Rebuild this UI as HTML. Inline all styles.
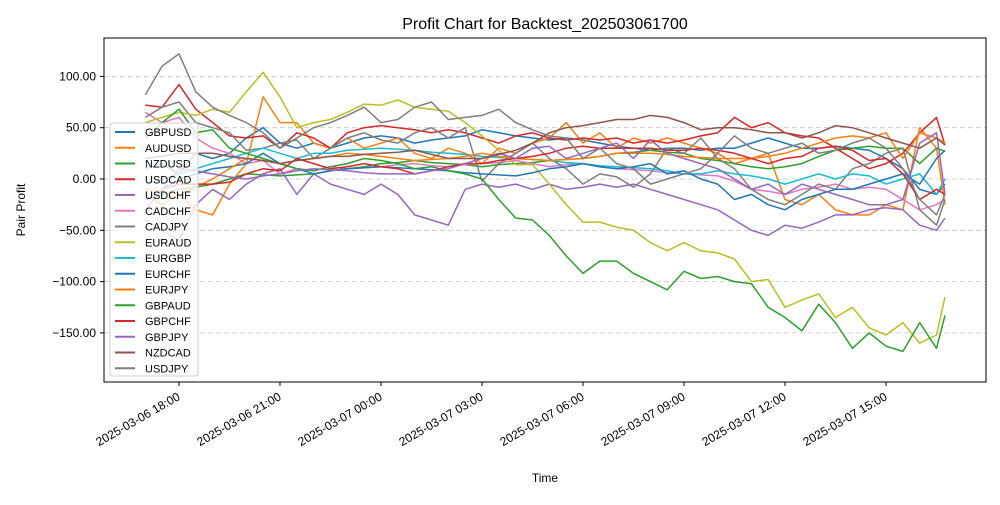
<!DOCTYPE html>
<html><head><meta charset="utf-8"><style>
body{margin:0;background:#fff;}
svg{font-family:"Liberation Sans","DejaVu Sans",sans-serif;}
</style></head><body>
<svg id="chart" width="1000" height="500" xmlns="http://www.w3.org/2000/svg">
<rect width="1000" height="500" fill="#fff"/>
<text x="545" y="29" text-anchor="middle" font-size="16">Profit Chart for Backtest_202503061700</text>
<g id="grid"></g><g id="series"></g>
<rect x="104" y="38" width="882" height="344" fill="none" stroke="#000" stroke-width="1"/>
<g id="axes" font-size="12"></g>
<text x="545" y="482" text-anchor="middle" font-size="12">Time</text>
<text transform="translate(25,210) rotate(-90)" text-anchor="middle" font-size="12">Pair Profit</text>
<g id="legend"></g>
</svg>
<script>
const names=["GBPUSD","AUDUSD","NZDUSD","USDCAD","USDCHF","CADCHF","CADJPY","EURAUD","EURGBP","EURCHF","EURJPY","GBPAUD","GBPCHF","GBPJPY","NZDCAD","USDJPY"];
const colors=["#1f77b4","#ff7f0e","#2ca02c","#d62728","#9467bd","#e377c2","#7f7f7f","#bcbd22","#17becf","#1f77b4","#ff7f0e","#2ca02c","#d62728","#9467bd","#8c564b","#7f7f7f"];
const GBPUSD=[10,15,5,25,20,25,40,50,35,30,35,30,35,40,42,40,35,38,40,42,48,45,42,40,38,40,38,35,32,30,28,30,30,28,30,30,35,40,35,30,30,32,30,28,20,10,-10,-15,-5];
const AUDUSD=[-15,-25,-15,-30,-35,-5,15,80,55,55,35,30,40,30,35,40,25,20,30,25,15,30,25,35,40,55,35,45,30,40,35,40,35,30,25,15,20,25,-20,-25,-15,-30,-35,-35,-25,-30,50,30,-25];
const NZDUSD=[-20,-15,-10,-8,-5,0,5,4,3,4,5,8,10,12,15,16,18,16,15,14,12,14,15,16,18,19,20,22,25,26,28,26,25,20,18,15,12,10,12,15,22,28,30,32,30,30,15,30,27];
const USDCAD=[72,70,92,68,55,42,40,42,30,45,40,30,45,50,52,50,48,45,48,45,40,35,42,45,40,38,40,38,40,35,38,35,38,42,45,60,50,55,45,42,40,30,20,10,15,25,45,60,33];
const USDCHF=[-40,-50,-60,-25,-10,-20,-5,5,10,-15,5,-5,-10,-15,-5,-15,-35,-40,-45,-10,-5,-8,-5,-10,-5,-10,-8,-5,-8,-5,-10,-15,-20,-25,-30,-40,-50,-55,-45,-48,-42,-35,-35,-30,-28,-30,-45,-50,-38];
const CADCHF=[65,55,60,40,30,25,15,18,5,10,8,12,10,11,12,14,15,13,12,14,15,16,18,15,12,14,15,12,10,9,8,6,5,4,3,-2,-10,-12,-15,-10,-8,-5,-10,-8,-10,-20,-30,-25,-20];
const CADJPY=[60,70,75,55,50,45,28,30,35,38,20,30,40,45,38,35,45,50,40,50,-2,15,25,35,20,10,-5,5,2,-8,5,30,25,40,20,10,-10,-20,-25,-15,-5,-10,10,15,25,30,-30,-45,-20];
const EURAUD=[55,60,65,62,68,65,85,104,80,50,55,58,65,73,72,77,70,68,66,55,42,28,14,14,-5,-25,-42,-42,-47,-50,-62,-70,-62,-70,-72,-78,-100,-98,-125,-118,-112,-135,-125,-145,-152,-140,-160,-152,-115];
const EURGBP=[-5,0,5,10,15,20,25,30,25,20,25,25,28,29,30,29,28,26,25,24,22,21,20,19,18,16,15,13,12,11,10,8,5,5,8,5,3,0,-5,0,5,0,5,3,-5,0,5,-15,0];
const EURCHF=[-20,-10,0,5,10,12,15,25,15,10,5,8,10,11,12,11,10,9,8,6,5,4,3,6,10,12,15,12,10,12,15,5,8,0,-5,-20,-15,-25,-30,-20,-15,-10,-10,-5,0,5,-5,20,28];
const EURJPY=[-10,-12,-15,-8,0,10,20,18,15,18,20,22,25,24,22,20,18,19,20,22,25,22,20,19,18,19,20,22,25,25,25,24,22,21,20,20,20,22,25,30,35,40,42,40,45,20,45,40,35];
const GBPAUD=[40,55,68,45,48,30,25,20,15,10,8,12,15,20,18,15,10,12,8,5,0,-20,-38,-40,-55,-75,-92,-80,-80,-92,-100,-108,-90,-97,-95,-100,-102,-125,-135,-148,-122,-140,-165,-150,-163,-168,-140,-165,-133];
const GBPCHF=[-30,-10,-5,-5,-5,-3,5,10,8,20,15,10,12,15,12,10,5,8,12,15,15,18,20,22,25,30,32,30,30,30,30,28,28,30,28,25,20,15,20,22,30,32,28,18,20,5,-20,-10,-15];
const GBPJPY=[-30,-10,10,8,5,2,0,3,5,8,10,9,8,6,5,5,5,8,10,15,20,25,20,30,32,20,25,30,35,20,38,25,20,15,10,0,-10,-5,-15,-5,-10,-15,-20,-25,-25,-20,35,45,-15];
const NZDCAD=[20,22,25,25,25,22,20,18,15,18,20,22,22,24,25,26,28,24,20,20,20,24,28,35,45,50,52,55,58,58,62,60,55,48,50,50,48,45,45,40,45,52,50,45,40,35,30,40,33];
const USDJPY=[82,110,122,85,70,62,55,45,30,40,50,55,62,70,55,58,70,75,58,60,62,68,55,48,42,40,20,30,15,10,-5,0,5,10,25,42,30,25,30,35,25,28,35,40,30,10,-20,-35,-15];
const seriesData=[GBPUSD,AUDUSD,NZDUSD,USDCAD,USDCHF,CADCHF,CADJPY,EURAUD,EURGBP,EURCHF,EURJPY,GBPAUD,GBPCHF,GBPJPY,NZDCAD,USDJPY];
const yTicks=[100,50,0,-50,-100,-150];
const yTickLabels=["100.00","50.00","0.00","−50.00","−100.00","−150.00"];
const xTickHours=[1,4,7,10,13,16,19,22];
const xTickLabels=["2025-03-06 18:00","2025-03-06 21:00","2025-03-07 00:00","2025-03-07 03:00","2025-03-07 06:00","2025-03-07 09:00","2025-03-07 12:00","2025-03-07 15:00"];
const times=[];for(let i=0;i<48;i++)times.push(i*0.5);times.push(23.75);
const NS="http://www.w3.org/2000/svg";
const xs=h=>145.3+h*33.67;
const ys=v=>179-v*1.026;
const BOTTOM=382;
function mk(tag,attrs,parent){const e=document.createElementNS(NS,tag);for(const k in attrs)e.setAttribute(k,attrs[k]);parent.appendChild(e);return e;}
const grid=document.getElementById('grid'),axes=document.getElementById('axes'),ser=document.getElementById('series'),leg=document.getElementById('legend');
yTicks.forEach((v,i)=>{const y=ys(v);
const g=mk('line',{x1:104,x2:986,y1:y,y2:y,stroke:'#b0b0b0','stroke-width':0.8,'stroke-dasharray':'5,3',opacity:0.7},grid);


const t=mk('line',{x1:100,x2:104,y1:y,y2:y,stroke:'#000'},axes);


const l=mk('text',{x:96,y:y+4,'text-anchor':'end'},axes);l.textContent=yTickLabels[i];

});
xTickHours.forEach((h,i)=>{const x=xs(h);
const t=mk('line',{x1:x,x2:x,y1:BOTTOM,y2:BOTTOM+4,stroke:'#000'},axes);


const l=mk('text',{transform:`translate(${x+2},${BOTTOM+17}) rotate(-30)`,'text-anchor':'end'},axes);l.textContent=xTickLabels[i];

});
seriesData.forEach((d,s)=>{const pts=d.map((v,i)=>xs(times[i]).toFixed(1)+','+ys(v).toFixed(1)).join(' ');
const p=mk('polyline',{points:pts,fill:'none',stroke:colors[s],'stroke-width':1.5,'stroke-linejoin':'round'},ser);

});
const lb=mk('rect',{x:110,y:123,width:88,height:253,fill:'#fff','fill-opacity':0.8,stroke:'#ccc',rx:3},leg);


names.forEach((n,i)=>{const y=132+i*15.75;
const ln=mk('line',{x1:115,x2:135,y1:y,y2:y,stroke:colors[i],'stroke-width':2},leg);


const t=mk('text',{x:145,y:y+4,'font-size':11},leg);t.textContent=n;

});
</script>
</body></html>
